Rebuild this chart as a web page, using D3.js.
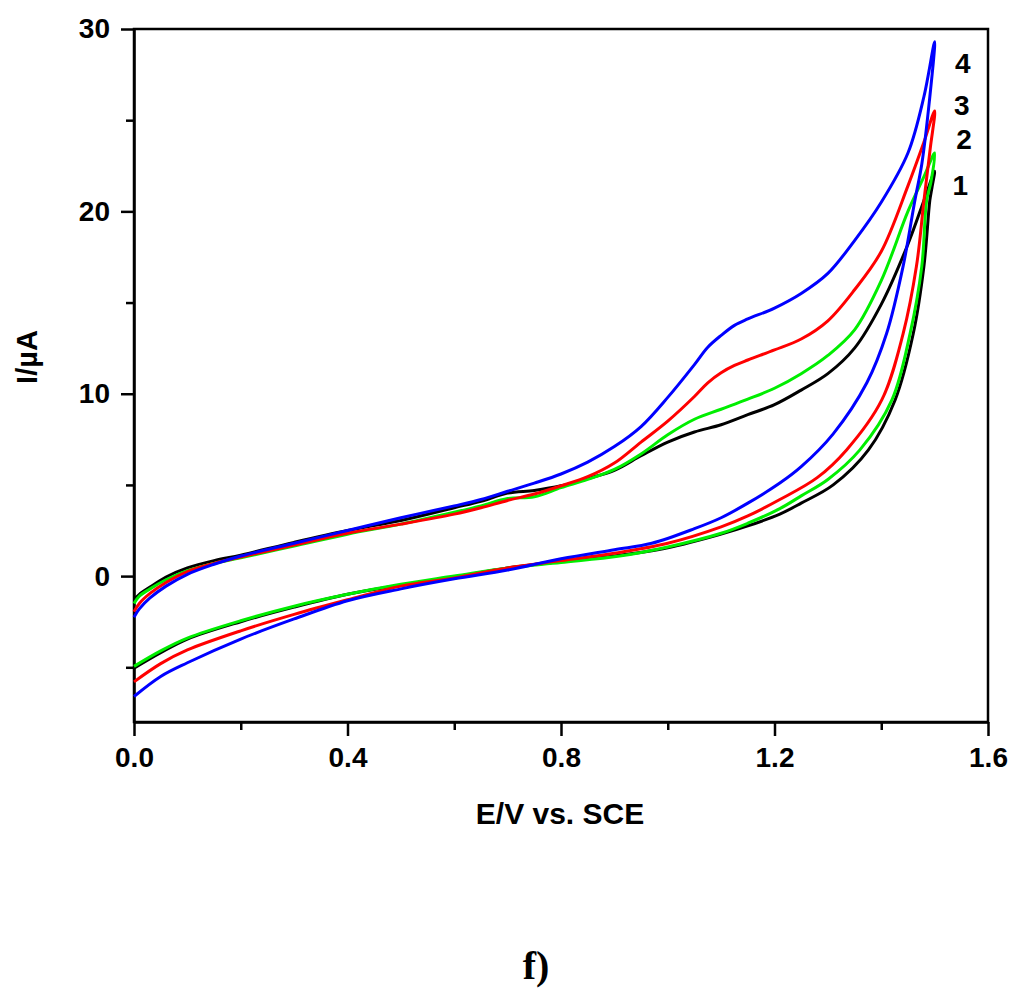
<!DOCTYPE html>
<html>
<head>
<meta charset="utf-8">
<script src="https://cdn.jsdelivr.net/npm/d3@7"></script>
<style>
  body { margin: 0; background: #fff; }
  svg { display: block; }
  .axis text { font-family: "Liberation Sans", Arial, sans-serif; font-weight: bold; font-size: 28px; fill: #000; }
  .axis path, .axis line { stroke: #000; stroke-width: 2.5px; }
</style>
</head>
<body>
<div id="chart"></div>
<script>
// cyclic voltammograms, curves 1-4 (forward scan, then reverse scan)
const curveIds = ["1", "2", "3", "4"];
const curveColors = ["#000000", "#00ee00", "#ff0000", "#0000ff"];

const fwd1 = [[0,-1.3],[0.01,-1.0],[0.03,-0.6],[0.06,-0.05],[0.1,0.45],[0.15,0.85],[0.2,1.15],[0.3,1.85],[0.4,2.5],[0.5,3.05],[0.6,3.75],[0.65,4.1],[0.7,4.55],[0.75,4.7],[0.8,4.95],[0.85,5.35],[0.9,5.8],[0.95,6.6],[1.0,7.35],[1.05,7.9],[1.1,8.3],[1.15,8.85],[1.2,9.4],[1.25,10.2],[1.3,11.1],[1.35,12.5],[1.4,14.9],[1.45,18.2],[1.48,20.6],[1.5,22.2]];
const rev1 = [[1.495,21.3],[1.491,20.6],[1.48,17.0],[1.46,13.3],[1.426,9.66],[1.376,6.92],[1.31,5.0],[1.25,4.0],[1.21,3.4],[1.15,2.75],[1.1,2.3],[1.0,1.55],[0.9,1.1],[0.8,0.8],[0.7,0.45],[0.6,-0.05],[0.5,-0.5],[0.4,-1.0],[0.3,-1.7],[0.2,-2.5],[0.1,-3.45],[0.05,-4.2],[0,-5.05]];

const fwd2 = [[0,-1.5],[0.01,-1.1],[0.03,-0.7],[0.06,-0.2],[0.1,0.3],[0.15,0.7],[0.2,1.0],[0.3,1.65],[0.4,2.3],[0.5,2.85],[0.6,3.5],[0.65,3.85],[0.7,4.25],[0.75,4.35],[0.8,4.85],[0.85,5.3],[0.9,5.85],[0.95,6.7],[1.0,7.75],[1.05,8.6],[1.1,9.15],[1.15,9.7],[1.2,10.3],[1.25,11.1],[1.3,12.1],[1.35,13.5],[1.4,16.2],[1.45,20.0],[1.48,21.9],[1.5,23.2]];
const rev2 = [[1.493,21.6],[1.485,20.6],[1.476,17.0],[1.454,13.3],[1.42,9.66],[1.36,6.92],[1.3,5.3],[1.25,4.4],[1.21,3.7],[1.15,2.9],[1.1,2.35],[1.0,1.6],[0.91,1.1],[0.8,0.75],[0.7,0.45],[0.6,0.0],[0.5,-0.45],[0.4,-1.0],[0.3,-1.65],[0.2,-2.45],[0.1,-3.4],[0.05,-4.1],[0,-4.95]];

const fwd3 = [[0,-1.95],[0.01,-1.5],[0.03,-0.95],[0.06,-0.35],[0.1,0.25],[0.15,0.7],[0.2,1.05],[0.3,1.7],[0.4,2.35],[0.5,2.85],[0.6,3.4],[0.65,3.75],[0.7,4.15],[0.75,4.5],[0.8,4.95],[0.85,5.45],[0.9,6.2],[0.95,7.35],[1.0,8.5],[1.05,9.85],[1.075,10.6],[1.1,11.15],[1.125,11.55],[1.15,11.85],[1.2,12.4],[1.25,13.0],[1.3,14.0],[1.35,15.7],[1.4,17.8],[1.45,21.4],[1.48,23.8],[1.5,25.5]];
const rev3 = [[1.492,23.5],[1.48,20.6],[1.466,17.0],[1.441,13.3],[1.401,9.66],[1.335,6.92],[1.28,5.4],[1.21,4.2],[1.15,3.3],[1.1,2.7],[1.0,1.8],[0.9,1.25],[0.8,0.85],[0.7,0.45],[0.6,-0.1],[0.5,-0.55],[0.4,-1.3],[0.3,-2.1],[0.2,-3.0],[0.1,-4.05],[0.05,-4.8],[0,-5.8]];

const fwd4 = [[0,-2.25],[0.01,-1.8],[0.03,-1.2],[0.06,-0.55],[0.1,0.1],[0.15,0.65],[0.2,1.1],[0.3,1.8],[0.4,2.5],[0.5,3.2],[0.6,3.85],[0.65,4.2],[0.7,4.65],[0.75,5.1],[0.8,5.6],[0.85,6.25],[0.9,7.1],[0.95,8.2],[1.0,9.8],[1.05,11.6],[1.075,12.55],[1.1,13.2],[1.125,13.75],[1.15,14.1],[1.2,14.7],[1.25,15.5],[1.3,16.6],[1.35,18.4],[1.4,20.5],[1.45,23.2],[1.48,26.3],[1.5,29.3]];
const rev4 = [[1.49,26.0],[1.476,22.6],[1.463,20.6],[1.441,17.0],[1.41,13.3],[1.373,10.6],[1.31,7.8],[1.25,6.0],[1.21,5.1],[1.15,4.0],[1.1,3.2],[1.05,2.6],[0.97,1.8],[0.9,1.45],[0.8,0.95],[0.7,0.33],[0.6,-0.15],[0.5,-0.7],[0.4,-1.35],[0.3,-2.35],[0.2,-3.45],[0.1,-4.75],[0.05,-5.5],[0,-6.6]];

const forwardScans = [fwd1, fwd2, fwd3, fwd4];
const reverseScans = [rev1, rev2, rev3, rev4];

const xMajor = [0, 0.4, 0.8, 1.2, 1.6];
const xMinor = [0.2, 0.6, 1.0, 1.4];
const yMajor = [0, 10, 20, 30];
const yMinor = [-5, 5, 15, 25];

// curve labels sit next to each curve's peak
const labelPotentials = [1.548, 1.555, 1.551, 1.553];
const labelCurrents = [20.9, 23.4, 25.3, 27.6];

const xTitle = "E/V vs. SCE";
const yTitle = "I/\u00b5A";
const panelTag = "f)";

const W = 1021, H = 1000;
const margin = { left: 134, top: 29, right: 33, bottom: 278 };
const innerW = W - margin.left - margin.right;
const innerH = H - margin.top - margin.bottom;

const svg = d3.select("#chart").append("svg").attr("width", W).attr("height", H);
const chart = svg.append("g").attr("transform", `translate(${margin.left},${margin.top})`);

const x = d3.scaleLinear().domain([0, 1.6]).range([0, innerW]);
const y = d3.scaleLinear().domain([-8, 30]).range([innerH, 0]);

// frame (top and right)
chart.append("rect")
  .attr("x", 0).attr("y", 0).attr("width", innerW).attr("height", innerH)
  .attr("fill", "none").attr("stroke", "#000").attr("stroke-width", 2.5);

// minor ticks
chart.append("g").attr("class", "axis").attr("transform", `translate(0,${innerH})`)
  .call(d3.axisBottom(x).tickValues(xMinor).tickSize(8).tickFormat("").tickSizeOuter(0))
  .select(".domain").remove();
chart.append("g").attr("class", "axis")
  .call(d3.axisLeft(y).tickValues(yMinor).tickSize(8).tickFormat("").tickSizeOuter(0))
  .select(".domain").remove();

// major ticks
chart.append("g").attr("class", "axis").attr("transform", `translate(0,${innerH})`)
  .call(d3.axisBottom(x).tickValues(xMajor).tickSize(14).tickPadding(11).tickFormat(d3.format(".1f")).tickSizeOuter(0));
chart.append("g").attr("class", "axis")
  .call(d3.axisLeft(y).tickValues(yMajor).tickSize(13).tickPadding(11).tickFormat(d3.format("d")).tickSizeOuter(0));

// curves
const line = d3.line()
  .x(d => x(d[0]))
  .y(d => y(d[1]))
  .curve(d3.curveCatmullRom.alpha(0.5));

forwardScans.forEach((f, i) => {
  chart.append("path")
    .datum(f.concat(reverseScans[i]))
    .attr("fill", "none")
    .attr("stroke", curveColors[i])
    .attr("stroke-width", 3)
    .attr("stroke-linejoin", "round")
    .attr("d", line);
});

// curve numbers
curveIds.forEach((id, i) => {
  chart.append("text")
    .attr("x", x(labelPotentials[i]))
    .attr("y", y(labelCurrents[i]))
    .attr("text-anchor", "middle")
    .attr("font-family", "Liberation Sans, Arial, sans-serif")
    .attr("font-weight", "bold")
    .attr("font-size", 28)
    .text(id);
});

// axis titles
svg.append("text")
  .attr("x", margin.left + x(0.8) - 1)
  .attr("y", 824)
  .attr("text-anchor", "middle")
  .attr("font-family", "Liberation Sans, Arial, sans-serif")
  .attr("font-weight", "bold")
  .attr("font-size", 30)
  .text(xTitle);

svg.append("text")
  .attr("transform", "translate(37,357) rotate(-90)")
  .attr("text-anchor", "middle")
  .attr("font-family", "Liberation Sans, Arial, sans-serif")
  .attr("font-weight", "bold")
  .attr("font-size", 29)
  .text(yTitle);

svg.append("text")
  .attr("x", 536)
  .attr("y", 979)
  .attr("text-anchor", "middle")
  .attr("font-family", "Liberation Serif, Times New Roman, serif")
  .attr("font-weight", "bold")
  .attr("font-size", 40)
  .text(panelTag);
</script>
</body>
</html>
